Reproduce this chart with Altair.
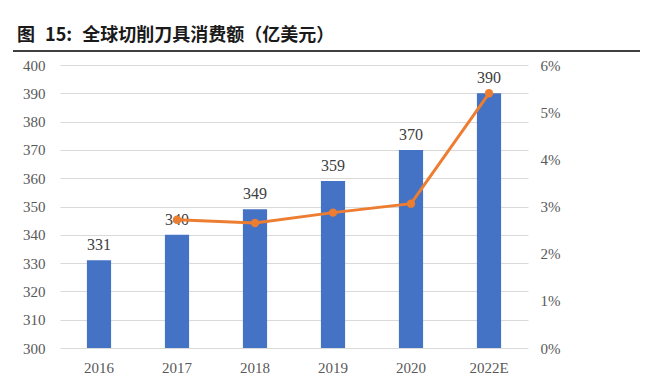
import altair as alt
import pandas as pd

years = ["2016", "2017", "2018", "2019", "2020", "2022E"]
values = [331, 340, 349, 359, 370, 390]
growth = [None, 0.0272, 0.0265, 0.0287, 0.0306, 0.0540]

df = pd.DataFrame({"year": years, "value": values, "growth": growth})

BLUE = "#4472C4"
ORANGE = "#ED7D31"
SERIF = "Liberation Serif"

x = alt.X("year:N", sort=years, title=None,
          scale=alt.Scale(paddingInner=0.69, paddingOuter=0.345),
          axis=alt.Axis(labelAngle=0, labelFont=SERIF, labelFontSize=15,
                        labelColor="#595959", domain=False, ticks=False,
                        labelPadding=12, grid=False))

yleft = alt.Y("value:Q", title=None,
              scale=alt.Scale(domain=[300, 400], nice=False, zero=False),
              axis=alt.Axis(values=list(range(300, 401, 10)), labelFont=SERIF,
                            labelFontSize=15, labelColor="#595959", domain=False,
                            domainOpacity=0, ticks=False, labelPadding=15, grid=True,
                            gridColor="#d9d9d9", gridWidth=1))

base = alt.Chart(df)

bars = base.mark_bar(color=BLUE).encode(x=x, y=yleft, y2=alt.datum(300))

labels = base.mark_text(font=SERIF, fontSize=16, color="#404040",
                        baseline="alphabetic", dy=-10).encode(
    x=x, y=yleft, text=alt.Text("value:Q"))

left = alt.layer(bars, labels)

line = base.transform_filter("datum.growth != null").mark_line(
    color=ORANGE, strokeWidth=3,
    point=alt.OverlayMarkDef(color=ORANGE, size=70, filled=True, opacity=1),
).encode(
    x=x,
    y=alt.Y("growth:Q", title=None,
            scale=alt.Scale(domain=[0, 0.06], nice=False),
            axis=alt.Axis(orient="right", format=".0%",
                          values=[0, 0.01, 0.02, 0.03, 0.04, 0.05, 0.06],
                          labelFont=SERIF, labelFontSize=15, labelColor="#595959",
                          domain=False, domainOpacity=0, ticks=False, grid=False,
                          labelPadding=12)),
)

underline = alt.Chart(pd.DataFrame({"a": [0]})).mark_rule(
    color="#404040", strokeWidth=2).encode(
    x=alt.value(-47), x2=alt.value(580), y=alt.value(-14))

chart = alt.layer(left, line, underline).resolve_scale(y="independent").properties(
    width=468,
    height=283,
    background="white",
    view=alt.ViewBackground(stroke="transparent", strokeWidth=0, strokeOpacity=0),
    autosize=alt.AutoSizeParams(type="none"),
    padding={"left": 52, "top": 57, "right": 115, "bottom": 26},
    title=alt.TitleParams("图\u2004 15:\u2004 全球切削刀具消费额（亿美元）", anchor="start",
                          frame="group", dx=-43, offset=5,
                          font="Noto Sans CJK SC", fontSize=18, fontWeight="bold",
                          color="#1a1a1a"),
).configure_view(stroke="transparent", strokeWidth=0, strokeOpacity=0).configure_axis(
    domain=False, domainOpacity=0, ticks=False
)

chart.save("out.html", embed_options={"renderer": "svg", "actions": False})
